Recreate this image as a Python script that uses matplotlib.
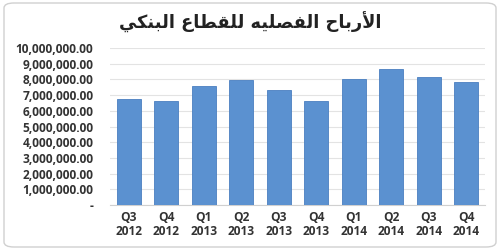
import matplotlib
matplotlib.use("Agg")
import matplotlib.pyplot as plt
from matplotlib.ticker import FuncFormatter, MultipleLocator
from matplotlib.patches import FancyBboxPatch

quarters = ["Q3", "Q4", "Q1", "Q2", "Q3", "Q4", "Q1", "Q2", "Q3", "Q4"]
years = ["2012", "2012", "2013", "2013", "2013", "2013", "2014", "2014", "2014", "2014"]
profits = [6730000, 6620000, 7600000, 7980000, 7340000, 6640000, 8000000, 8640000, 8130000, 7830000]

# Title "الأرباح الفصليه للقطاع البنكي" in Arabic presentation forms (logical order)
title_logical = ("\uFE8D\uFEF7\uFEAD\uFE91\uFE8E\uFEA1 "
                 "\uFE8D\uFEDF\uFED4\uFEBC\uFEE0\uFEF4\uFEEA "
                 "\uFEDF\uFEE0\uFED8\uFEC4\uFE8E\uFEC9 "
                 "\uFE8D\uFEDF\uFE92\uFEE8\uFEDC\uFEF2")
title_visual = title_logical[::-1]

fig = plt.figure(figsize=(5, 2.5), dpi=100)
fig.patch.set_facecolor("white")
border = FancyBboxPatch((0.008, 0.012), 0.984, 0.976, boxstyle="round,pad=0,rounding_size=0.02",
                        transform=fig.transFigure, facecolor="none", edgecolor="#d0d0d0",
                        linewidth=1.0, zorder=-1)
fig.patches.append(border)

ax = fig.add_axes([0.22, 0.18, 0.75, 0.628])
ax.patch.set_alpha(0)
labels = [f"{q}\n{y}" for q, y in zip(quarters, years)]
x = range(len(profits))
ax.bar(x, profits, width=0.64, color="#5b91d0", edgecolor="#4a7fc0", linewidth=0.6, zorder=3)
ax.set_xlim(-0.5, len(profits) - 0.5)
ax.set_ylim(0, 10000000)
ax.yaxis.set_major_locator(MultipleLocator(1000000))
ax.yaxis.set_major_formatter(FuncFormatter(lambda v, p: "-" if v == 0 else f"{v:,.2f}"))
ax.set_xticks(list(x))
ax.set_xticklabels(labels)
ax.grid(axis="y", color="#e3e3e3", linewidth=0.8, zorder=0)
for s in ["left", "right", "top"]:
    ax.spines[s].set_visible(False)
ax.spines["bottom"].set_color("#d0d0d0")
ax.tick_params(axis="both", length=0, colors="#333333")
for t in ax.get_yticklabels():
    t.set_fontsize(8.6); t.set_fontweight("bold"); t.set_family("Open Sans")
for t in ax.get_xticklabels():
    t.set_fontsize(8.6); t.set_fontweight("bold"); t.set_family("Open Sans")
    t.set_linespacing(1.15)
ax.tick_params(axis="y", pad=12)
ax.tick_params(axis="x", pad=4)

fig.text(0.5, 0.912, title_visual, ha="center", va="center", fontsize=12.8,
         family="DejaVu Sans", fontweight="bold", color="#222222")

fig.savefig("out.png", dpi=100)
